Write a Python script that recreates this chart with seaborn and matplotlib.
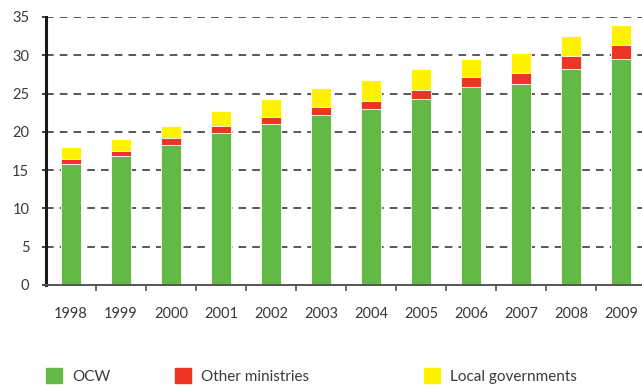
import matplotlib
matplotlib.use("Agg")
import matplotlib.pyplot as plt
from matplotlib.patches import Rectangle
import numpy as np
import pandas as pd
import seaborn as sns

# Education expenditure by funding source (billions of euros)
years = ["1998", "1999", "2000", "2001", "2002", "2003",
         "2004", "2005", "2006", "2007", "2008", "2009"]
ocw = [15.8, 16.8, 18.3, 19.8, 21.0, 22.25, 23.0, 24.3, 25.8, 26.25, 28.25, 29.5]
other_ministries = [0.65, 0.75, 0.9, 0.9, 1.0, 1.0, 1.0, 1.2, 1.4, 1.45, 1.7, 1.8]
local_governments = [1.55, 1.5, 1.6, 2.0, 2.25, 2.45, 2.8, 2.7, 2.3, 2.55, 2.55, 2.65]
series_names = ["OCW", "Other ministries", "Local governments"]
colors = ["#63b946", "#ee3524", "#fff200"]
y_ticks = [0, 5, 10, 15, 20, 25, 30, 35]

sns.set_theme(style="white")
plt.rcParams["font.family"] = ["Lato", "DejaVu Sans"]
text_color = "#3a3a3a"

df = pd.DataFrame({"year": years, "OCW": ocw,
                   "Other ministries": other_ministries,
                   "Local governments": local_governments})
# cumulative stack heights, drawn from tallest to shortest
df["s1"] = df["OCW"]
df["s2"] = df["s1"] + df["Other ministries"]
df["s3"] = df["s2"] + df["Local governments"]

W, H = 642, 385
fig = plt.figure(figsize=(W / 100, H / 100), dpi=100)
ax = fig.add_axes([46 / W, 100 / H, 600 / W, 268 / H])

for col, c in zip(["s3", "s2", "s1"], colors[::-1]):
    sns.barplot(data=df, x="year", y=col, color=c, width=0.4, ax=ax,
                saturation=1, edgecolor="#ffffff", linewidth=0.6, zorder=3)

ax.set_ylim(0, 35)
ax.set_xlim(-0.5, len(years) - 0.5)
ax.set_yticks(y_ticks)
ax.set_yticklabels([str(t) for t in y_ticks], fontsize=10.5, color=text_color)
ax.set_xlabel("")
ax.set_ylabel("")

for t in y_ticks[1:]:
    ax.axhline(t, color="#2a2a2a", lw=1.1, ls=(0, (5, 4)), zorder=1)

# x ticks sit at category boundaries, year labels at the bar centres
ax.set_xticks(np.arange(len(years)) + 0.5)
ax.set_xticklabels([])
ax.set_xticks(np.arange(len(years)), minor=True)
ax.set_xticklabels(years, minor=True, fontsize=10.5, color=text_color)
ax.tick_params(axis="x", which="major", direction="out", length=4, width=1.2,
               color="#555555", bottom=True)
ax.tick_params(axis="x", which="minor", length=0, pad=16, bottom=True)
ax.tick_params(axis="y", direction="out", length=3, width=1.2, color="#222222",
               left=True, pad=9)

for s in ["top", "right"]:
    ax.spines[s].set_visible(False)
ax.spines["left"].set_color("#1a1a1a")
ax.spines["left"].set_linewidth(2.2)
ax.spines["bottom"].set_color("#555555")
ax.spines["bottom"].set_linewidth(1.4)
ax.spines["left"].set_zorder(4)
ax.spines["bottom"].set_zorder(4)

# legend along the bottom edge
legend_x = [46, 175, 424]
for name, c, x0 in zip(series_names, colors, legend_x):
    fig.patches.append(Rectangle((x0 / W, 2 / H), 16 / W, 15 / H, color=c,
                                 transform=fig.transFigure, figure=fig))
    fig.text((x0 + 26) / W, 1 / H, name, fontsize=11, color=text_color,
             ha="left", va="bottom")

fig.savefig("out.png", dpi=100)
